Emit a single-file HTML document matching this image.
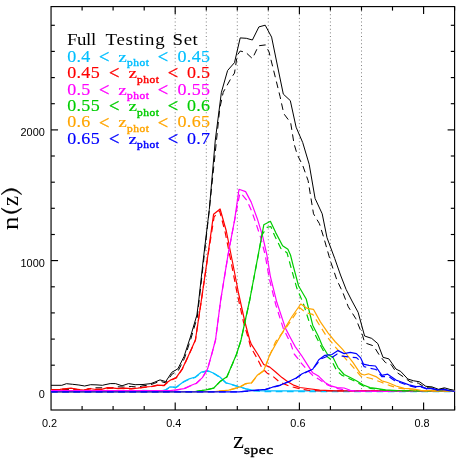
<!DOCTYPE html>
<html><head><meta charset="utf-8"><title>n(z)</title>
<style>html,body{margin:0;padding:0;background:#fff}body{width:458px;height:459px;overflow:hidden}</style></head>
<body>
<svg width="458" height="459" viewBox="0 0 458 459" style="display:block;will-change:transform">
<rect x="0" y="0" width="458" height="459" fill="#fff"/>
<line x1="175.2" y1="10.6" x2="175.2" y2="391.4" stroke="#707070" stroke-width="0.9" stroke-dasharray="1 2.63"/>
<line x1="206.3" y1="10.6" x2="206.3" y2="391.4" stroke="#707070" stroke-width="0.9" stroke-dasharray="1 2.63"/>
<line x1="237.3" y1="10.6" x2="237.3" y2="391.4" stroke="#707070" stroke-width="0.9" stroke-dasharray="1 2.63"/>
<line x1="268.3" y1="10.6" x2="268.3" y2="391.4" stroke="#707070" stroke-width="0.9" stroke-dasharray="1 2.63"/>
<line x1="299.4" y1="10.6" x2="299.4" y2="391.4" stroke="#707070" stroke-width="0.9" stroke-dasharray="1 2.63"/>
<line x1="330.4" y1="10.6" x2="330.4" y2="391.4" stroke="#707070" stroke-width="0.9" stroke-dasharray="1 2.63"/>
<line x1="361.5" y1="10.6" x2="361.5" y2="391.4" stroke="#707070" stroke-width="0.9" stroke-dasharray="1 2.63"/>
<g stroke="#000" stroke-width="1.15" fill="none">
<rect x="51.05" y="6.6" width="403.55" height="403.4"/>
<line x1="82.1" y1="410.0" x2="82.1" y2="406.0"/>
<line x1="82.1" y1="6.6" x2="82.1" y2="10.6"/>
<line x1="113.1" y1="410.0" x2="113.1" y2="406.0"/>
<line x1="113.1" y1="6.6" x2="113.1" y2="10.6"/>
<line x1="144.2" y1="410.0" x2="144.2" y2="406.0"/>
<line x1="144.2" y1="6.6" x2="144.2" y2="10.6"/>
<line x1="175.2" y1="410.0" x2="175.2" y2="402.5"/>
<line x1="175.2" y1="6.6" x2="175.2" y2="14.1"/>
<line x1="206.3" y1="410.0" x2="206.3" y2="406.0"/>
<line x1="206.3" y1="6.6" x2="206.3" y2="10.6"/>
<line x1="237.3" y1="410.0" x2="237.3" y2="406.0"/>
<line x1="237.3" y1="6.6" x2="237.3" y2="10.6"/>
<line x1="268.3" y1="410.0" x2="268.3" y2="406.0"/>
<line x1="268.3" y1="6.6" x2="268.3" y2="10.6"/>
<line x1="299.4" y1="410.0" x2="299.4" y2="402.5"/>
<line x1="299.4" y1="6.6" x2="299.4" y2="14.1"/>
<line x1="330.4" y1="410.0" x2="330.4" y2="406.0"/>
<line x1="330.4" y1="6.6" x2="330.4" y2="10.6"/>
<line x1="361.5" y1="410.0" x2="361.5" y2="406.0"/>
<line x1="361.5" y1="6.6" x2="361.5" y2="10.6"/>
<line x1="392.5" y1="410.0" x2="392.5" y2="406.0"/>
<line x1="392.5" y1="6.6" x2="392.5" y2="10.6"/>
<line x1="423.6" y1="410.0" x2="423.6" y2="402.5"/>
<line x1="423.6" y1="6.6" x2="423.6" y2="14.1"/>
<line x1="454.6" y1="410.0" x2="454.6" y2="406.0"/>
<line x1="454.6" y1="6.6" x2="454.6" y2="10.6"/>
<line x1="51.05" y1="391.4" x2="58.05" y2="391.4"/>
<line x1="454.6" y1="391.4" x2="447.6" y2="391.4"/>
<line x1="51.05" y1="365.2" x2="54.849999999999994" y2="365.2"/>
<line x1="454.6" y1="365.2" x2="450.8" y2="365.2"/>
<line x1="51.05" y1="339.1" x2="54.849999999999994" y2="339.1"/>
<line x1="454.6" y1="339.1" x2="450.8" y2="339.1"/>
<line x1="51.05" y1="312.9" x2="54.849999999999994" y2="312.9"/>
<line x1="454.6" y1="312.9" x2="450.8" y2="312.9"/>
<line x1="51.05" y1="286.8" x2="54.849999999999994" y2="286.8"/>
<line x1="454.6" y1="286.8" x2="450.8" y2="286.8"/>
<line x1="51.05" y1="260.6" x2="58.05" y2="260.6"/>
<line x1="454.6" y1="260.6" x2="447.6" y2="260.6"/>
<line x1="51.05" y1="234.5" x2="54.849999999999994" y2="234.5"/>
<line x1="454.6" y1="234.5" x2="450.8" y2="234.5"/>
<line x1="51.05" y1="208.3" x2="54.849999999999994" y2="208.3"/>
<line x1="454.6" y1="208.3" x2="450.8" y2="208.3"/>
<line x1="51.05" y1="182.2" x2="54.849999999999994" y2="182.2"/>
<line x1="454.6" y1="182.2" x2="450.8" y2="182.2"/>
<line x1="51.05" y1="156.0" x2="54.849999999999994" y2="156.0"/>
<line x1="454.6" y1="156.0" x2="450.8" y2="156.0"/>
<line x1="51.05" y1="129.9" x2="58.05" y2="129.9"/>
<line x1="454.6" y1="129.9" x2="447.6" y2="129.9"/>
<line x1="51.05" y1="103.7" x2="54.849999999999994" y2="103.7"/>
<line x1="454.6" y1="103.7" x2="450.8" y2="103.7"/>
<line x1="51.05" y1="77.6" x2="54.849999999999994" y2="77.6"/>
<line x1="454.6" y1="77.6" x2="450.8" y2="77.6"/>
<line x1="51.05" y1="51.4" x2="54.849999999999994" y2="51.4"/>
<line x1="454.6" y1="51.4" x2="450.8" y2="51.4"/>
<line x1="51.05" y1="25.3" x2="54.849999999999994" y2="25.3"/>
<line x1="454.6" y1="25.3" x2="450.8" y2="25.3"/>
</g>
<g fill="none" stroke-linejoin="round" stroke-linecap="butt">
<polyline points="51.0,385.3 61.8,385.3 66.4,383.7 72.7,384.3 78.9,385.0 84.7,386.0 90.6,384.7 97.0,384.9 102.4,385.3 105.0,384.7 110.2,383.6 115.5,383.6 122.0,385.8 128.6,383.6 135.1,384.7 143.0,384.5 150.9,383.6 154.8,382.1 160.0,379.9 165.7,381.6 171.8,372.3 177.9,368.8 184.0,356.6 190.4,337.0 196.9,315.0 198.8,300.0 203.1,261.0 209.3,209.5 215.3,140.0 221.4,92.3 227.6,70.5 234.5,62.6 240.2,37.9 246.3,38.3 252.4,40.0 258.9,26.9 265.2,25.2 271.6,37.1 277.5,66.0 283.3,94.1 290.3,100.6 296.1,127.2 302.7,142.5 309.2,164.3 315.1,198.5 322.2,213.8 327.0,237.7 334.7,258.4 340.5,275.0 346.1,289.4 352.0,301.0 358.1,312.3 364.6,336.0 371.7,338.4 377.8,343.6 383.0,357.3 388.9,358.9 396.0,369.1 400.7,371.4 407.8,379.0 413.7,380.8 419.6,381.8 425.8,386.3 432.0,386.9 438.4,389.3 444.4,387.8 449.6,389.3 454.5,390.4" stroke="#000000" stroke-width="1.0"/>
<polyline points="51.0,389.9 70.0,389.6 85.0,390.0 90.0,388.6 93.0,387.8 100.0,387.8 105.0,387.8 111.0,388.0 118.0,386.8 123.3,387.1 131.2,386.5 137.8,387.1 143.0,385.8 149.6,385.1 154.8,383.2 160.0,381.2 165.7,382.9 172.2,374.0 178.3,370.6 184.4,358.5 190.8,339.0 197.3,317.0 203.5,262.0 209.3,210.0 215.5,150.0 219.7,108.9 223.2,92.3 231.0,78.3 234.5,73.1 237.2,55.4 240.2,51.0 245.8,52.4 252.4,58.6 258.5,45.8 265.5,44.9 269.0,51.9 275.7,78.8 280.0,96.3 283.3,111.5 284.2,114.2 290.7,122.9 294.0,143.6 297.2,154.5 302.7,165.4 308.1,180.6 313.5,213.8 319.4,223.6 323.8,237.7 330.3,260.6 336.8,279.8 342.9,292.7 348.3,306.8 355.9,318.8 362.5,335.2 364.7,342.8 373.6,345.9 379.5,355.4 385.4,362.5 391.3,364.8 396.0,371.9 403.0,376.6 410.1,381.8 418.4,383.2 425.5,387.7 432.0,388.0 438.4,389.8 444.3,388.6 449.6,389.9 454.5,390.6" stroke="#000000" stroke-width="1.0" stroke-dasharray="6.7 4.5"/>
<polyline points="51.0,391.0 140.0,391.0 143.0,390.4 150.0,390.6 160.0,391.0 165.7,389.8 170.1,386.8 176.2,387.2 183.2,381.9 189.3,378.8 195.4,377.0 201.5,372.0 207.6,370.6 213.8,373.2 219.9,377.0 226.0,382.8 232.2,384.5 239.2,386.8 246.2,388.9 254.9,390.6 265.0,390.9 454.5,390.9" stroke="#00bfff" stroke-width="1.2"/>
<polyline points="51.0,391.6 160.0,391.6 165.7,390.0 170.1,387.2 176.2,387.5 183.2,382.3 189.3,379.2 195.4,377.4 201.5,372.5 207.6,371.2 213.8,373.6 219.9,377.3 226.0,383.0 232.2,384.8 239.2,387.0 246.2,389.0 254.9,390.9 265.0,391.6 454.5,391.6" stroke="#00bfff" stroke-width="1.2" stroke-dasharray="6.7 4.5"/>
<polyline points="51.0,389.8 60.0,389.3 71.0,388.2 77.5,389.5 84.0,390.0 89.3,388.5 95.9,389.5 102.4,389.1 107.7,387.6 111.6,387.8 118.1,388.7 124.7,388.2 131.2,388.7 137.8,388.2 144.3,387.1 150.9,386.5 157.4,385.1 164.0,385.4 166.6,382.8 171.0,379.8 176.2,377.6 182.3,368.8 188.4,355.7 195.4,340.0 201.4,300.0 207.5,258.0 213.6,214.2 220.1,209.0 226.3,231.0 232.5,262.0 238.7,294.0 244.9,322.0 249.7,340.0 251.4,344.4 257.6,354.0 263.7,364.5 269.8,367.1 275.9,372.3 282.0,377.6 288.1,381.9 294.2,385.4 300.0,387.5 307.5,388.5 319.7,390.2 335.4,390.8 454.5,390.9" stroke="#ff0000" stroke-width="1.2"/>
<polyline points="51.0,390.0 71.0,388.6 84.0,390.2 89.3,388.8 102.4,389.3 111.6,388.1 131.2,388.9 144.3,387.4 150.9,386.8 157.4,385.4 164.0,385.7 166.6,383.2 171.0,380.2 176.2,378.0 182.3,369.2 188.4,356.0 195.4,340.3 201.4,300.3 207.5,258.3 214.1,216.9 219.6,210.9 224.9,231.0 231.1,262.0 237.3,294.0 243.5,322.0 248.8,340.0 250.6,347.0 256.7,357.5 261.9,367.9 267.2,373.2 272.4,375.8 279.4,381.9 289.9,386.3 300.0,388.9 307.5,390.2 320.0,390.8 454.5,390.9" stroke="#ff0000" stroke-width="1.2" stroke-dasharray="6.7 4.5"/>
<polyline points="51.0,390.6 170.0,390.6 176.2,389.8 184.0,388.6 190.2,385.8 196.3,383.3 202.4,377.6 207.6,368.8 212.0,353.1 215.5,340.0 220.7,300.0 228.0,255.0 234.6,220.0 239.0,189.3 245.6,191.6 251.2,202.1 257.3,218.7 262.6,236.1 266.9,255.0 270.3,276.1 276.8,302.3 285.5,328.4 290.0,337.0 295.2,346.6 301.4,355.3 307.5,364.9 312.7,372.8 318.8,376.3 324.9,382.4 331.0,385.9 337.2,387.6 344.1,388.0 350.3,390.3 356.4,391.0 400.0,391.5 454.5,391.5" stroke="#ff00ff" stroke-width="1.2"/>
<polyline points="51.0,391.5 170.0,391.5 176.2,390.0 184.0,388.8 190.2,386.0 196.3,383.5 202.4,377.8 207.6,369.0 212.0,353.3 215.5,340.2 220.7,300.3 228.0,255.3 234.6,220.3 239.9,193.2 242.5,195.1 246.8,200.3 251.2,209.9 255.6,222.2 260.8,237.9 265.2,255.0 269.2,278.3 275.7,304.5 283.3,328.4 290.7,343.5 294.2,354.0 297.7,358.3 300.5,362.3 307.5,370.2 312.7,375.4 319.7,379.8 327.6,385.0 335.4,388.2 345.0,390.0 355.0,391.2 400.0,391.5 454.5,391.5" stroke="#ff00ff" stroke-width="1.2" stroke-dasharray="6.7 4.5"/>
<polyline points="51.0,391.6 195.0,391.6 205.9,389.8 213.8,388.0 219.9,381.6 226.9,376.7 231.4,366.2 236.6,354.0 241.0,340.0 249.7,300.0 258.2,255.0 263.8,224.8 270.4,221.3 275.7,232.6 282.6,245.7 287.9,249.2 290.5,255.0 293.1,265.3 298.6,286.0 306.2,299.0 312.7,325.2 318.2,336.1 322.3,345.7 327.6,354.5 332.8,357.1 338.0,367.6 344.1,374.5 350.3,377.5 356.4,380.7 363.4,385.0 370.0,387.6 375.9,388.4 385.4,389.8 397.2,390.7 420.0,390.9 454.5,391.0" stroke="#00cd00" stroke-width="1.2"/>
<polyline points="51.0,391.6 195.0,391.6 205.9,390.0 213.8,388.2 219.9,381.8 226.9,377.0 231.4,366.5 236.6,354.3 241.0,340.3 249.7,300.3 258.2,255.3 262.0,235.0 266.9,227.4 270.8,226.5 274.8,236.1 280.9,248.4 287.0,252.7 291.3,268.5 296.8,288.1 303.3,303.4 309.9,324.1 316.4,337.2 321.6,347.5 326.3,356.0 331.2,359.7 336.5,370.2 341.7,375.1 350.0,379.0 356.4,382.0 363.4,386.0 370.0,388.3 385.0,390.3 400.0,390.9 454.5,391.0" stroke="#00cd00" stroke-width="1.2" stroke-dasharray="6.7 4.5"/>
<polyline points="51.0,391.6 215.0,391.6 228.7,390.1 239.2,387.2 245.3,383.7 251.4,382.8 257.6,374.9 263.7,370.6 269.8,354.8 277.6,340.9 285.5,327.3 292.0,316.5 300.8,304.0 307.3,308.4 313.4,309.3 320.4,321.9 328.0,332.8 335.0,341.5 342.4,349.2 352.9,362.3 360.6,373.8 364.2,375.0 368.4,373.8 375.9,376.6 381.8,380.8 387.7,382.5 396.0,386.0 404.2,388.4 412.5,388.9 420.8,390.3 435.0,390.9 454.5,391.0" stroke="#ffa500" stroke-width="1.2"/>
<polyline points="51.0,391.6 215.0,391.6 228.7,390.3 239.2,387.5 245.3,384.0 251.4,383.1 257.6,375.2 263.7,371.0 269.8,355.2 275.7,341.5 283.3,331.7 290.9,320.8 299.7,307.7 306.2,312.8 312.7,314.3 319.3,324.8 326.9,336.8 333.4,344.4 336.3,348.2 350.3,363.9 360.7,376.1 366.9,377.5 371.2,378.5 380.7,382.0 390.1,385.6 397.2,387.9 410.0,389.5 425.0,390.9 454.5,391.0" stroke="#ffa500" stroke-width="1.2" stroke-dasharray="6.7 4.5"/>
<polyline points="51.0,391.8 239.0,391.8 251.4,390.7 265.4,389.4 272.4,387.2 280.3,385.1 289.9,381.0 296.1,378.0 302.2,373.7 308.3,371.0 312.7,369.3 318.8,359.7 324.9,355.3 331.9,354.5 338.0,350.6 344.1,353.6 350.3,352.4 356.4,353.6 360.7,357.9 363.4,364.1 368.9,365.3 375.5,366.0 381.8,375.4 387.7,374.2 396.0,380.1 400.7,381.8 409.0,384.9 416.0,386.7 420.8,386.3 426.7,388.6 432.5,388.7 438.5,390.0 444.4,389.3 449.6,390.6 454.5,391.3" stroke="#0000ff" stroke-width="1.2"/>
<polyline points="51.0,391.8 239.0,391.8 251.4,390.8 265.4,389.6 272.4,387.4 280.3,385.3 289.9,381.2 296.1,378.2 302.2,374.0 308.3,371.3 312.7,369.6 316.0,365.0 321.4,358.8 327.6,356.2 331.9,357.6 337.2,354.1 342.4,356.2 349.4,357.1 356.4,357.6 361.6,362.3 364.2,366.7 370.0,368.3 376.0,369.5 381.8,376.6 388.9,376.6 394.8,380.8 400.7,382.8 409.0,385.8 416.0,387.3 420.8,387.0 426.7,388.9 432.5,389.0 438.5,390.2 444.4,389.6 449.6,390.8 454.5,391.3" stroke="#0000ff" stroke-width="1.2" stroke-dasharray="6.7 4.5"/>
</g>
<g font-family="Liberation Sans, sans-serif" font-size="10.9" fill="#000">
<text x="49.5" y="427.2" text-anchor="middle">0.2</text>
<text x="173.7" y="427.2" text-anchor="middle">0.4</text>
<text x="297.9" y="427.2" text-anchor="middle">0.6</text>
<text x="422.1" y="427.2" text-anchor="middle">0.8</text>
<text x="44.8" y="397.8" text-anchor="end">0</text>
<text x="44.8" y="267.0" text-anchor="end">1000</text>
<text x="44.8" y="136.3" text-anchor="end">2000</text>
</g>
<g font-family="Liberation Serif, serif" fill="#000">
<text transform="translate(18.3,229.9) rotate(-90) scale(1.15,1)" font-size="23.5">n</text>
<text transform="translate(18.1,206.0) rotate(-90) scale(0.96,1)" font-size="23.5">z</text>
<path d="M1.0,194.3 Q11.4,182.6 21.8,194.3 L21.3,194.5 Q11.4,186.0 1.5,194.5 Z" stroke="#000" stroke-width="0.5" stroke-linejoin="round"/>
<path d="M1.0,208.5 Q11.4,218.6 21.8,208.5 L21.3,208.3 Q11.4,215.2 1.5,208.3 Z" stroke="#000" stroke-width="0.5" stroke-linejoin="round"/>
<text transform="translate(233.00,448.20) scale(1.1,1.0)" font-size="22.5">z</text>
<text transform="translate(244.00,454.40) scale(1.15,1.0)" font-size="13.4" textLength="25.22" lengthAdjust="spacing" stroke="#000" stroke-width="0.4">spec</text>
</g>
<g font-family="Liberation Serif, serif">
<text transform="translate(67.00,44.80) scale(1.15,1)" font-size="16.4" textLength="25.39" lengthAdjust="spacing">Full</text>
<text transform="translate(105.60,44.80) scale(1.15,1)" font-size="16.4" textLength="51.30" lengthAdjust="spacing">Testing</text>
<text transform="translate(172.60,44.80) scale(1.15,1)" font-size="16.4" textLength="21.91" lengthAdjust="spacing">Set</text>
<g fill="#00bfff">
<text transform="translate(67.20,61.75) scale(1.1,1.045)" font-size="16.4" textLength="21.00" lengthAdjust="spacing" stroke="#00bfff" stroke-width="0.15">0.4</text>
<text transform="translate(99.00,62.95) scale(1.12,1.12)" font-size="16.4" stroke="#00bfff" stroke-width="0.3">&lt;</text>
<text transform="translate(118.20,61.75) scale(1.24,1.0)" font-size="15.4" stroke="#00bfff" stroke-width="0.2">z</text>
<text transform="translate(127.00,66.35) scale(1.12,1.0)" font-size="10.2" textLength="19.64" lengthAdjust="spacing" stroke="#00bfff" stroke-width="0.42">phot</text>
<text transform="translate(157.80,62.95) scale(1.12,1.12)" font-size="16.4" stroke="#00bfff" stroke-width="0.3">&lt;</text>
<text transform="translate(177.50,61.75) scale(1.1,1.045)" font-size="16.4" textLength="29.55" lengthAdjust="spacing" stroke="#00bfff" stroke-width="0.15">0.45</text>
</g>
<g fill="#ff0000">
<text transform="translate(67.20,78.15) scale(1.1,1.045)" font-size="16.4" textLength="29.55" lengthAdjust="spacing" stroke="#ff0000" stroke-width="0.15">0.45</text>
<text transform="translate(109.00,79.35) scale(1.12,1.12)" font-size="16.4" stroke="#ff0000" stroke-width="0.3">&lt;</text>
<text transform="translate(128.60,78.15) scale(1.24,1.0)" font-size="15.4" stroke="#ff0000" stroke-width="0.2">z</text>
<text transform="translate(137.00,82.75) scale(1.12,1.0)" font-size="10.2" textLength="19.64" lengthAdjust="spacing" stroke="#ff0000" stroke-width="0.42">phot</text>
<text transform="translate(167.80,79.35) scale(1.12,1.12)" font-size="16.4" stroke="#ff0000" stroke-width="0.3">&lt;</text>
<text transform="translate(186.90,78.15) scale(1.1,1.045)" font-size="16.4" textLength="21.00" lengthAdjust="spacing" stroke="#ff0000" stroke-width="0.15">0.5</text>
</g>
<g fill="#ff00ff">
<text transform="translate(67.20,94.55) scale(1.1,1.045)" font-size="16.4" textLength="21.00" lengthAdjust="spacing" stroke="#ff00ff" stroke-width="0.15">0.5</text>
<text transform="translate(99.00,95.75) scale(1.12,1.12)" font-size="16.4" stroke="#ff00ff" stroke-width="0.3">&lt;</text>
<text transform="translate(118.20,94.55) scale(1.24,1.0)" font-size="15.4" stroke="#ff00ff" stroke-width="0.2">z</text>
<text transform="translate(127.00,99.15) scale(1.12,1.0)" font-size="10.2" textLength="19.64" lengthAdjust="spacing" stroke="#ff00ff" stroke-width="0.42">phot</text>
<text transform="translate(157.80,95.75) scale(1.12,1.12)" font-size="16.4" stroke="#ff00ff" stroke-width="0.3">&lt;</text>
<text transform="translate(177.50,94.55) scale(1.1,1.045)" font-size="16.4" textLength="29.55" lengthAdjust="spacing" stroke="#ff00ff" stroke-width="0.15">0.55</text>
</g>
<g fill="#00cd00">
<text transform="translate(67.20,110.95) scale(1.1,1.045)" font-size="16.4" textLength="29.55" lengthAdjust="spacing" stroke="#00cd00" stroke-width="0.15">0.55</text>
<text transform="translate(109.00,112.15) scale(1.12,1.12)" font-size="16.4" stroke="#00cd00" stroke-width="0.3">&lt;</text>
<text transform="translate(128.60,110.95) scale(1.24,1.0)" font-size="15.4" stroke="#00cd00" stroke-width="0.2">z</text>
<text transform="translate(137.00,115.55) scale(1.12,1.0)" font-size="10.2" textLength="19.64" lengthAdjust="spacing" stroke="#00cd00" stroke-width="0.42">phot</text>
<text transform="translate(167.80,112.15) scale(1.12,1.12)" font-size="16.4" stroke="#00cd00" stroke-width="0.3">&lt;</text>
<text transform="translate(186.90,110.95) scale(1.1,1.045)" font-size="16.4" textLength="21.00" lengthAdjust="spacing" stroke="#00cd00" stroke-width="0.15">0.6</text>
</g>
<g fill="#ffa500">
<text transform="translate(67.20,127.35) scale(1.1,1.045)" font-size="16.4" textLength="21.00" lengthAdjust="spacing" stroke="#ffa500" stroke-width="0.15">0.6</text>
<text transform="translate(99.00,128.55) scale(1.12,1.12)" font-size="16.4" stroke="#ffa500" stroke-width="0.3">&lt;</text>
<text transform="translate(118.20,127.35) scale(1.24,1.0)" font-size="15.4" stroke="#ffa500" stroke-width="0.2">z</text>
<text transform="translate(127.00,131.95) scale(1.12,1.0)" font-size="10.2" textLength="19.64" lengthAdjust="spacing" stroke="#ffa500" stroke-width="0.42">phot</text>
<text transform="translate(157.80,128.55) scale(1.12,1.12)" font-size="16.4" stroke="#ffa500" stroke-width="0.3">&lt;</text>
<text transform="translate(177.50,127.35) scale(1.1,1.045)" font-size="16.4" textLength="29.55" lengthAdjust="spacing" stroke="#ffa500" stroke-width="0.15">0.65</text>
</g>
<g fill="#0000ff">
<text transform="translate(67.20,143.75) scale(1.1,1.045)" font-size="16.4" textLength="29.55" lengthAdjust="spacing" stroke="#0000ff" stroke-width="0.15">0.65</text>
<text transform="translate(109.00,144.95) scale(1.12,1.12)" font-size="16.4" stroke="#0000ff" stroke-width="0.3">&lt;</text>
<text transform="translate(128.60,143.75) scale(1.24,1.0)" font-size="15.4" stroke="#0000ff" stroke-width="0.2">z</text>
<text transform="translate(137.00,148.35) scale(1.12,1.0)" font-size="10.2" textLength="19.64" lengthAdjust="spacing" stroke="#0000ff" stroke-width="0.42">phot</text>
<text transform="translate(167.80,144.95) scale(1.12,1.12)" font-size="16.4" stroke="#0000ff" stroke-width="0.3">&lt;</text>
<text transform="translate(186.90,143.75) scale(1.1,1.045)" font-size="16.4" textLength="21.00" lengthAdjust="spacing" stroke="#0000ff" stroke-width="0.15">0.7</text>
</g>
</g>
</svg>
</body></html>
